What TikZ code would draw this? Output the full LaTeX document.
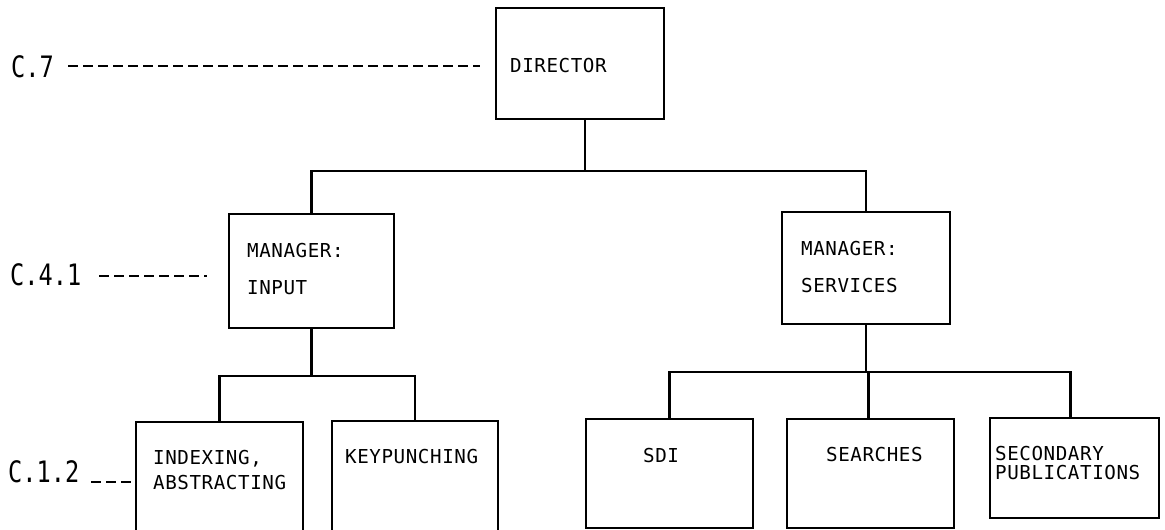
\documentclass[tikz,border=0pt]{standalone}
\usepackage{fontspec}
\newfontfamily\boxfontfam[LetterSpace=3]{DejaVu Sans Mono}
\newfontfamily\lblfontfam[FakeStretch=0.8]{DejaVu Sans Mono}
\begin{document}
\begin{tikzpicture}[x=1pt,y=-1pt,
  unitbox/.style={draw, line width=2pt, rectangle, inner sep=0pt, anchor=north west},
  boxtext/.style={inner sep=0pt, anchor=north west, align=left,
    font=\boxfontfam\fontsize{19.2}{#1}\selectfont},
  boxtext/.default=20,
  lbl/.style={inner sep=0pt, anchor=north west, font=\lblfontfam\fontsize{29.5}{30}\selectfont},
  conn/.style={line width=2.8pt, line cap=rect},
  dashline/.style={line width=2.2pt, dash pattern=on 10pt off 5pt}]
\useasboundingbox (0,0) rectangle (1165,530);
\fill[white] (0,0) rectangle (1165,530);
\clip (0,0) rectangle (1165,530);

% boxes
\node[unitbox, minimum width=168pt, minimum height=111pt] (dir) at (495,7) {};
\node[unitbox, minimum width=165pt, minimum height=114pt] (inp) at (228,213) {};
\node[unitbox, minimum width=168pt, minimum height=112pt] (srv) at (781,211) {};
\node[unitbox, minimum width=167pt, minimum height=125pt] (idx) at (135,421) {};
\node[unitbox, minimum width=166pt, minimum height=125pt] (kp) at (331,420) {};
\node[unitbox, minimum width=167pt, minimum height=109pt] (sdi) at (585,418) {};
\node[unitbox, minimum width=167pt, minimum height=109pt] (sea) at (786,418) {};
\node[unitbox, minimum width=169pt, minimum height=100pt] (sec) at (989,417) {};

% box texts
\node[boxtext] (tdir) at (510,58.5) {DIRECTOR};
\node[boxtext=37] (tinp) at (247,243) {MANAGER:\\INPUT};
\node[boxtext=37] (tsrv) at (801,241) {MANAGER:\\SERVICES};
\node[boxtext=25] (tidx) at (153,450) {INDEXING,\\ABSTRACTING};
\node[boxtext] (tkp) at (345,449) {KEYPUNCHING};
\node[boxtext] (tsdi) at (643,448.5) {SDI};
\node[boxtext] (tsea) at (826,447.5) {SEARCHES};
\node[boxtext=19.5] (tsec) at (995,446) {SECONDARY\\PUBLICATIONS};

% level labels
\node[lbl] (c7) at (11,55) {C.7};
\node[lbl] (c41) at (10,263.5) {C.4.1};
\node[lbl] (c12) at (8,460.5) {C.1.2};
\coordinate (d7) at (480,66);
\coordinate (d41) at (207,276);
\coordinate (d12) at (135,482);
\draw[dashline, shorten <=14pt] (d7 -| c7.east) -- (d7);
\draw[dashline, shorten <=18pt] (d41 -| c41.east) -- (d41);
\draw[dashline, shorten <=12pt] (d12 -| c12.east) -- (idx.west |- d12);

% connectors
\coordinate (bus1) at (0,171);
\coordinate (bus2) at (0,376);
\coordinate (bus3) at (0,372);
\draw[conn] ([xshift=5pt]dir.south) -- ([xshift=5pt]dir.south |- bus1);
\draw[conn] (inp.north) |- (bus1 -| srv.north) -- (srv.north);
\draw[conn] (inp.south) -- (inp.south |- bus2);
\draw[conn] (idx.north) |- (bus2 -| kp.north) -- (kp.north);
\draw[conn] (srv.south) -- (srv.south |- bus3);
\draw[conn] (sdi.north) |- ([xshift=-4pt]bus3 -| sec.north) -- ([xshift=-4pt]sec.north);
\draw[conn] ([xshift=-2pt]sea.north) -- ([xshift=-2pt]sea.north |- bus3);
\end{tikzpicture}
\end{document}
